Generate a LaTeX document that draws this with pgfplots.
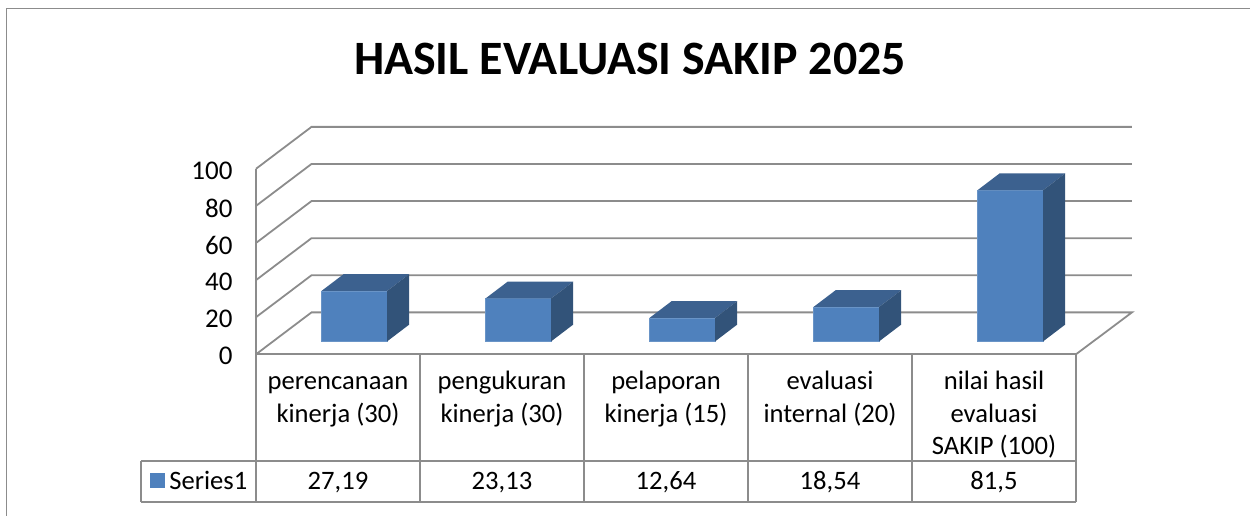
\documentclass[border=0pt]{standalone}
\usepackage{pgfplots}
\pgfplotsset{compat=1.18}
\usepackage{pgfplotstable}
\usepackage{fontspec}
\setmainfont{Carlito}
\definecolor{gridc}{HTML}{8C8C8C}
\definecolor{front}{HTML}{4F81BD}
\definecolor{topc}{HTML}{3C618F}
\definecolor{sidec}{HTML}{325379}
\pgfplotstableread{
idx val
0 27.19
1 23.13
2 12.64
3 18.54
4 81.5
}\sakip
\pgfplotsset{base/.style={
  width=820pt,height=185.5pt,scale only axis,
  xmin=-0.5,xmax=4.5,clip=false,at={(0,0)},anchor=south west},
  rule/.style={draw=gridc,line width=1.8pt,no marks,sharp plot,forget plot},
  face/.style={draw=none,no marks,sharp plot,forget plot}}
\newcommand{\lab}{\fontsize{26.6}{32}\selectfont}
\newcommand{\fl}{\rule{0pt}{23pt}}
\begin{document}
\begin{tikzpicture}[x=1pt,y=1pt]
\useasboundingbox (-256,-161.7) rectangle (994,354.3);
\begin{axis}[base,
  ymin=0,ymax=100,
  axis line style={draw=none},
  ytick={0,20,40,60,80,100},
  xtick={0,1,2,3,4},
  xticklabels={{\fl perencanaan\\kinerja (30)},{\fl pengukuran\\kinerja (30)},{\fl pelaporan\\kinerja (15)},{\fl evaluasi\\internal (20)},{\fl nilai hasil\\evaluasi\\SAKIP (100)}},
  xticklabel style={align=center,font=\fontsize{26.6}{32.5}\selectfont,yshift=-9pt,anchor=north},
  yticklabel style={font=\fontsize{27}{32}\selectfont,xshift=-20pt,yshift=-2pt},
  /pgf/number format/assume math mode=true,
  tick style={draw=none},
]
% walls
\addplot[rule] coordinates {(-0.5,0)(-0.1616,22.6)(4.841,22.6)(4.5,0)};
\addplot[rule] coordinates {(-0.5,20)(-0.1616,42.6)(4.841,42.6)};
\addplot[rule] coordinates {(-0.5,40)(-0.1616,62.6)(4.841,62.6)};
\addplot[rule] coordinates {(-0.5,60)(-0.1616,82.6)(4.841,82.6)};
\addplot[rule] coordinates {(-0.5,80)(-0.1616,102.6)(4.841,102.6)};
\addplot[rule] coordinates {(-0.5,100)(-0.1616,122.6)(4.841,122.6)};
\addplot[rule] coordinates {(-0.5,0)(-0.5,100)};
% data table rules
\addplot[rule] coordinates {(-0.5,0)(4.5,0)};
\addplot[rule] coordinates {(-1.2,-57.5)(4.5,-57.5)};
\addplot[rule] coordinates {(-1.2,-79.6)(4.5,-79.6)};
\addplot[rule] coordinates {(-1.2,-57.5)(-1.2,-79.6)};
\addplot[rule] coordinates {(-0.5,0)(-0.5,-79.6)};
\addplot[rule] coordinates {(0.5,0)(0.5,-79.6)};
\addplot[rule] coordinates {(1.5,0)(1.5,-79.6)};
\addplot[rule] coordinates {(2.5,0)(2.5,-79.6)};
\addplot[rule] coordinates {(3.5,0)(3.5,-79.6)};
\addplot[rule] coordinates {(4.5,0)(4.5,-79.6)};
% outer frame
\addplot[rule] coordinates {(-2.021,-88)(-2.021,186.4)(5.57,186.4)};
% legend key
\addplot[face,fill=front] coordinates {(-1.146,-64)(-1.055,-64)(-1.055,-72)(-1.146,-72)} --cycle;
\node[font=\lab,anchor=base west] at (axis cs:-1.05,-73.15) {Series1};
\node[font=\lab,anchor=base] at (axis cs:0,-73.15) {27,19};
\node[font=\lab,anchor=base] at (axis cs:1,-73.15) {23,13};
\node[font=\lab,anchor=base] at (axis cs:2,-73.15) {12,64};
\node[font=\lab,anchor=base] at (axis cs:3,-73.15) {18,54};
\node[font=\lab,anchor=base] at (axis cs:4,-73.15) {81,5};
\node[font=\fontsize{47.9}{56}\selectfont\bfseries] at (axis cs:1.78,159) {HASIL EVALUASI SAKIP 2025};
\end{axis}
\begin{axis}[base,hide axis,
  ymin=-7,ymax=93,
  ybar,bar width=65.6pt,bar shift=16.4pt]
\addplot[fill=front,draw=front!85!white,line width=0.6pt] table[x=idx,y=val]{\sakip};
% top and side faces of the boxes
\addplot[face,fill=topc] coordinates {(-0.1,27.19)(0.3,27.19)(0.434,36.19)(0.034,36.19)} --cycle;
\addplot[face,fill=sidec] coordinates {(0.3,0)(0.434,9)(0.434,36.19)(0.3,27.19)} --cycle;
\addplot[face,fill=topc] coordinates {(0.9,23.13)(1.3,23.13)(1.434,32.13)(1.034,32.13)} --cycle;
\addplot[face,fill=sidec] coordinates {(1.3,0)(1.434,9)(1.434,32.13)(1.3,23.13)} --cycle;
\addplot[face,fill=topc] coordinates {(1.9,12.64)(2.3,12.64)(2.434,21.64)(2.034,21.64)} --cycle;
\addplot[face,fill=sidec] coordinates {(2.3,0)(2.434,9)(2.434,21.64)(2.3,12.64)} --cycle;
\addplot[face,fill=topc] coordinates {(2.9,18.54)(3.3,18.54)(3.434,27.54)(3.034,27.54)} --cycle;
\addplot[face,fill=sidec] coordinates {(3.3,0)(3.434,9)(3.434,27.54)(3.3,18.54)} --cycle;
\addplot[face,fill=topc] coordinates {(3.9,81.5)(4.3,81.5)(4.434,90.5)(4.034,90.5)} --cycle;
\addplot[face,fill=sidec] coordinates {(4.3,0)(4.434,9)(4.434,90.5)(4.3,81.5)} --cycle;
\end{axis}
\end{tikzpicture}
\end{document}
